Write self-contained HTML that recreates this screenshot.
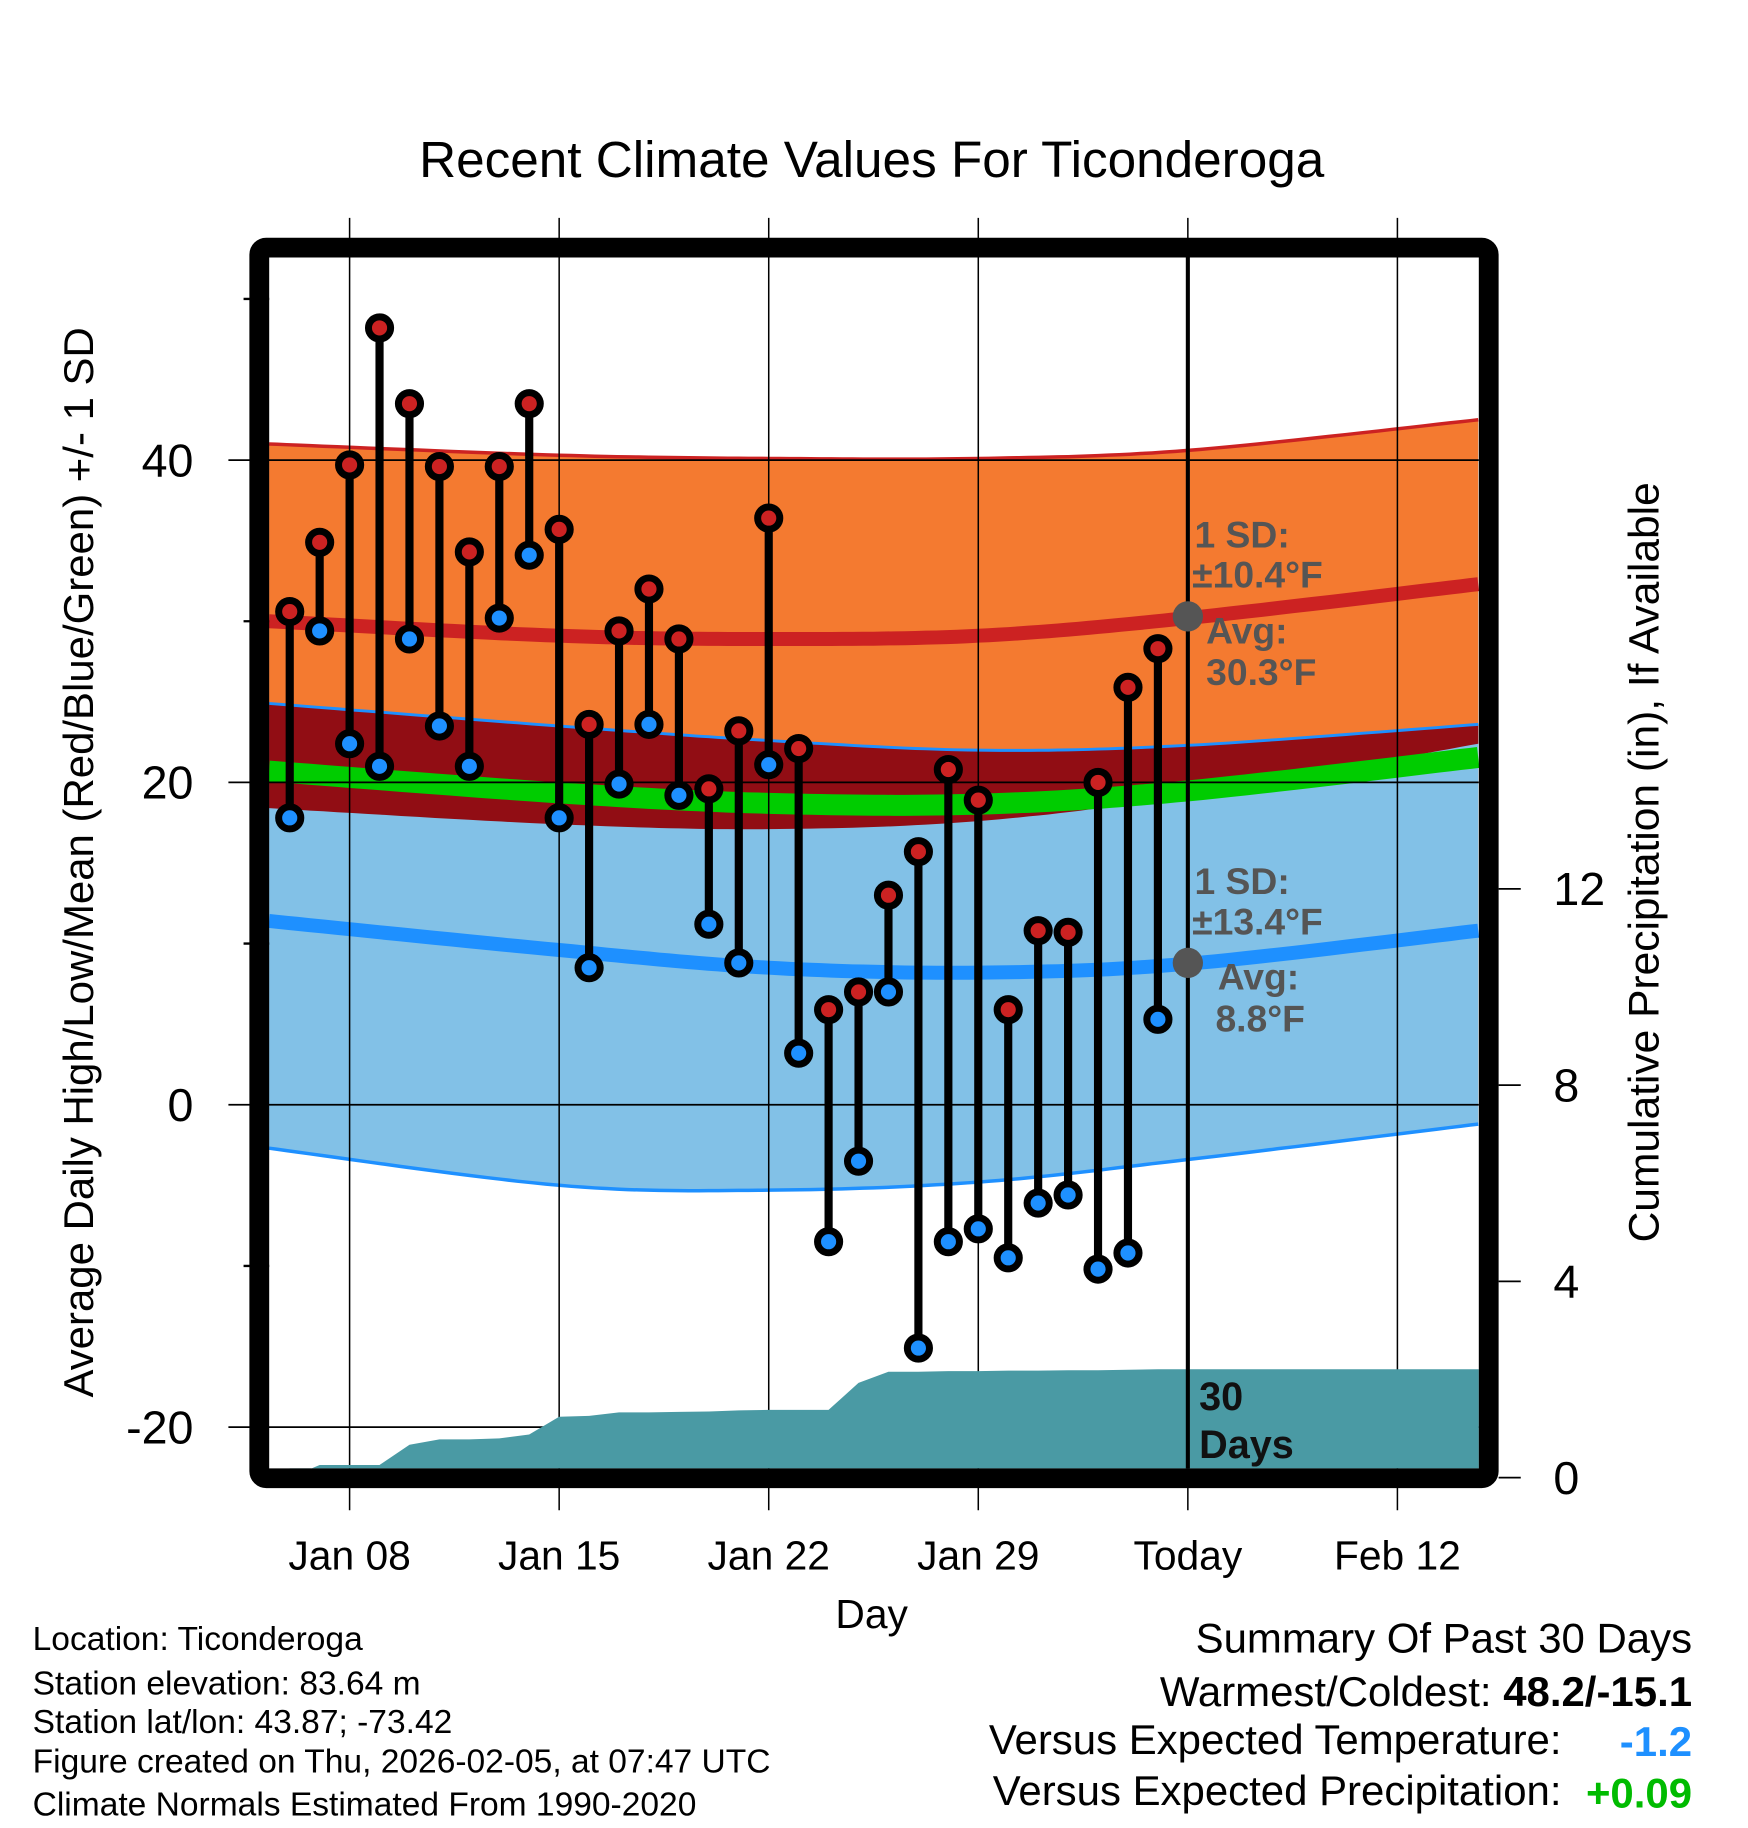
<!DOCTYPE html>
<html><head><meta charset="utf-8"><style>
html,body{margin:0;padding:0;background:#fff;}
svg{display:block;font-family:"Liberation Sans",Arial,sans-serif;}
</style></head><body>
<svg id="chart" width="1748" height="1828" viewBox="0 0 1500 1568.65" xmlns="http://www.w3.org/2000/svg">
<text x="748" y="152" font-size="44" text-anchor="middle">Recent Climate Values For Ticonderoga</text>
<g id="bands"></g><g id="grid"></g><g id="precip"></g><g id="today"></g><g id="marks"></g><g id="annot"></g><g id="frame"></g><g id="axes"></g>
<text transform="translate(80,740) rotate(-90)" font-size="36" text-anchor="middle">Average Daily High/Low/Mean (Red/Blue/Green) +/- 1 SD</text>
<text transform="translate(1423,740) rotate(-90)" font-size="36.5" text-anchor="middle">Cumulative Precipitation (in), If Available</text>
<text x="748" y="1397" font-size="35" text-anchor="middle">Day</text>
<g font-size="28.8">
<text x="28" y="1416">Location: Ticonderoga</text>
<text x="28" y="1454">Station elevation: 83.64 m</text>
<text x="28" y="1487">Station lat/lon: 43.87; -73.42</text>
<text x="28" y="1521">Figure created on Thu, 2026-02-05, at 07:47 UTC</text>
<text x="28" y="1558">Climate Normals Estimated From 1990-2020</text>
</g>
<g font-size="36">
<text x="1452" y="1418" text-anchor="end">Summary Of Past 30 Days</text>
<text x="1452" y="1464" text-anchor="end">Warmest/Coldest: <tspan font-weight="bold">48.2/-15.1</tspan></text>
<text x="1340" y="1505" text-anchor="end">Versus Expected Temperature:</text>
<text x="1452" y="1507" text-anchor="end" font-weight="bold" fill="#1e90ff">-1.2</text>
<text x="1340" y="1549" text-anchor="end">Versus Expected Precipitation:</text>
<text x="1452" y="1551" text-anchor="end" font-weight="bold" fill="#00bb00">+0.09</text>
</g>
</svg>
<script>
// day offsets relative to Jan 08
const days=[-2,-1,0,1,2,3,4,5,6,7,8,9,10,11,12,13,14,15,16,17,18,19,20,21,22,23,24,25,26,27];
const highs=[30.6,34.9,39.7,48.2,43.5,39.6,34.3,39.6,43.5,35.7,23.6,29.4,32.0,28.9,19.6,23.2,36.4,22.1,5.9,7.0,13.0,15.7,20.8,18.9,5.9,10.8,10.7,20.0,25.9,28.3];
const lows=[17.8,29.4,22.4,21.0,28.9,23.5,21.0,30.2,34.1,17.8,8.5,19.9,23.6,19.2,11.2,8.8,21.1,3.2,-8.5,-3.5,7.0,-15.1,-8.5,-7.7,-9.5,-6.1,-5.6,-10.2,-9.2,5.3];
const precip=[0,0.26,0.26,0.26,0.67,0.78,0.78,0.80,0.88,1.24,1.26,1.33,1.33,1.34,1.35,1.37,1.38,1.38,1.38,1.93,2.16,2.16,2.17,2.17,2.18,2.18,2.19,2.19,2.20,2.21];
// normals nodes
const nDays=[-2.69,7,14,21,28,37.7];
const hiUpper=[41.0,40.3,40.1,40.1,40.6,42.5];
const hiAvg=[30.0,29.1,28.9,29.1,30.2,32.3];
const hiLower=[18.4,17.4,17.1,17.6,19.2,22.4];
const loUpper=[24.9,23.5,22.6,22.0,22.3,23.6];
const loAvg=[11.4,9.6,8.5,8.2,8.75,10.8];
const loLower=[-2.7,-5.0,-5.3,-4.8,-3.4,-1.2];
const yTicks=[40,20,0,-20];
const yMinor=[50,30,10,-10];
const pTicks=[0,4,8,12];
const xTickDays=[0,7,14,21,28,35];
const xTickLabels=["Jan 08","Jan 15","Jan 22","Jan 29","Today","Feb 12"];

const NS="http://www.w3.org/2000/svg";
const X0=231,X1=1269,Y0=221,Y1=1260;
const xs=d=>300+25.69*d;
const ys=v=>948-13.83*v;
const yp=p=>1268-42.1*p;
function mk(tag,attrs,parent){const e=document.createElementNS(NS,tag);for(const k in attrs)e.setAttribute(k,attrs[k]);parent.appendChild(e);return e;}
function curvePts(arr){
  const pts=[];const n=nDays.length;
  for(let i=0;i<n-1;i++){
    const p0=i>0?i-1:i,p3=i+2<n?i+2:i+1;
    for(let t=0;t<1;t+=0.05){
      const t2=t*t,t3=t2*t;
      const f=(a,b,c,d)=>0.5*((2*b)+(-a+c)*t+(2*a-5*b+4*c-d)*t2+(-a+3*b-3*c+d)*t3);
      pts.push([xs(f(nDays[p0],nDays[i],nDays[i+1],nDays[p3])),ys(f(arr[p0],arr[i],arr[i+1],arr[p3]))]);
    }
  }
  pts.push([xs(nDays[n-1]),ys(arr[n-1])]);
  return pts;
}
const ps=p=>p.map(q=>q[0].toFixed(1)+","+q[1].toFixed(1)).join(" ");
const bands=document.getElementById('bands');
function band(up,lo,fill,name){
  const e=mk('polygon',{points:ps(curvePts(up).concat(curvePts(lo).reverse())),fill:fill},bands);
  
  
}
band(hiUpper,hiLower,'#f47a30','high-sd-band');
band(loUpper,loLower,'#82c1e7','low-sd-band');
band(loUpper,hiLower,'#910d14','overlap-band');
function line(arr,col,w,name){
  const e=mk('polyline',{points:ps(curvePts(arr)),fill:'none',stroke:col,'stroke-width':w},bands);
  
  
}
const meanArr=hiAvg.map((h,i)=>(h+loAvg[i])/2);
line(meanArr,'#00cc00',18,'mean-line');
line(hiAvg,'#cc2222',12,'high-avg-line');
line(loAvg,'#1e90ff',12,'low-avg-line');
line(hiUpper,'#cc2222',3,'high-upper-line');
line(loUpper,'#1e90ff',2.5,'low-upper-line');
line(loLower,'#1e90ff',3,'low-lower-line');

const grid=document.getElementById('grid');
const axes=document.getElementById('axes');
yTicks.forEach(v=>{
  const g=mk('line',{x1:196,x2:X1,y1:ys(v),y2:ys(v),stroke:'#000','stroke-width':1.5},grid);
  
  
  const t=mk('text',{x:166,y:ys(v)+14,'font-size':40,'text-anchor':'end'},axes);
  t.textContent=v;
  
  
});
yMinor.forEach(v=>{
  const g=mk('line',{x1:209,x2:X0,y1:ys(v),y2:ys(v),stroke:'#000','stroke-width':2},axes);
  
  
});
pTicks.forEach(p=>{
  const g=mk('line',{x1:1286,x2:1305,y1:yp(p),y2:yp(p),stroke:'#000','stroke-width':1.5},axes);
  
  
  const t=mk('text',{x:1333,y:yp(p)+14,'font-size':40},axes);
  t.textContent=p;
  
  
});
xTickDays.forEach((d,i)=>{
  const g=mk('line',{x1:xs(d),x2:xs(d),y1:187,y2:1296,stroke:'#000','stroke-width':1.3},grid);
  
  
  const t=mk('text',{x:xs(d),y:1347,'font-size':35,'text-anchor':'middle'},axes);
  t.textContent=xTickLabels[i];
  
  
});
// precip
const pp=document.getElementById('precip');
let pts=days.map((d,i)=>[xs(d),yp(precip[i])]);
pts.push([X1,yp(precip[precip.length-1])]);
pts=[[xs(days[0]),Y1]].concat(pts).concat([[X1,Y1]]);
const pa=mk('polygon',{points:ps(pts),fill:'#4a9aa4'},pp);


// today line
const tl=mk('line',{x1:xs(28),x2:xs(28),y1:Y0,y2:Y1,stroke:'#000','stroke-width':3.5},document.getElementById('today'));


// marks
const marks=document.getElementById('marks');
days.forEach((d,i)=>{
  const s=mk('line',{x1:xs(d),x2:xs(d),y1:ys(highs[i]),y2:ys(lows[i]),stroke:'#000','stroke-width':7},marks);
  
  
});
days.forEach((d,i)=>{
  const h=mk('circle',{cx:xs(d),cy:ys(highs[i]),r:9.5,fill:'#cc2222',stroke:'#000','stroke-width':6},marks);
  
  
  const l=mk('circle',{cx:xs(d),cy:ys(lows[i]),r:9.5,fill:'#1e90ff',stroke:'#000','stroke-width':6},marks);
  
  
});
// annotations
const an=document.getElementById('annot');
const tx=xs(28);
const dh=mk('circle',{cx:tx,cy:ys(30.3),r:13,fill:'#555'},an);


const dl=mk('circle',{cx:tx,cy:ys(8.8),r:13,fill:'#555'},an);


const lab=[["1 SD:",1025,470],["±10.4°F",1023,504],["Avg:",1035,552],["30.3°F",1035,588],["1 SD:",1025,767],["±13.4°F",1023,802],["Avg:",1045,849],["8.8°F",1043,885]];
lab.forEach(a=>{
  const t=mk('text',{x:a[1],y:a[2],'font-size':32,'font-weight':'bold',fill:'#555'},an);
  t.textContent=a[0];
  
  
});
[["30",1029,1210],["Days",1029,1251]].forEach(a=>{
  const t=mk('text',{x:a[1],y:a[2],'font-size':34,'font-weight':'bold',fill:'#111'},an);
  t.textContent=a[0];
  
  
});
// frame
const fr=mk('rect',{x:222.5,y:212.5,width:1055,height:1056,rx:6,fill:'none',stroke:'#000','stroke-width':17},document.getElementById('frame'));


</script>
</body></html>
